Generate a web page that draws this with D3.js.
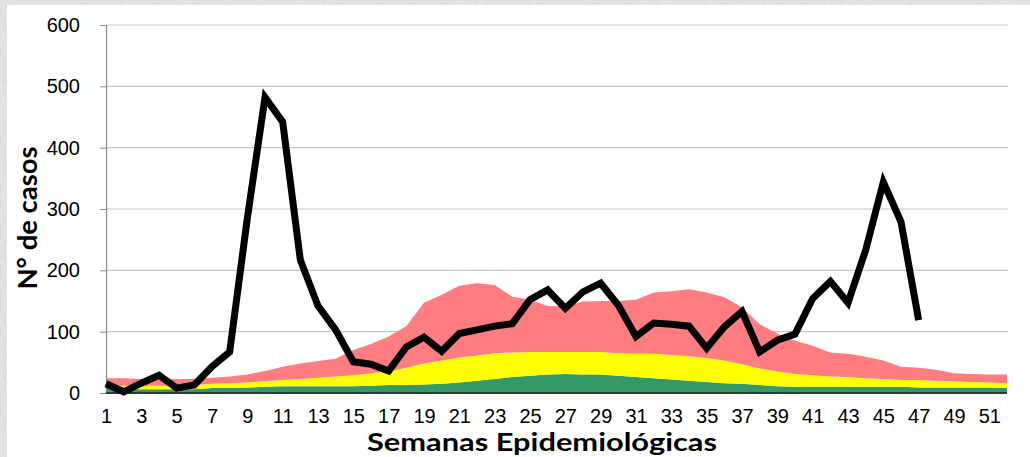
<!DOCTYPE html>
<html>
<head>
<meta charset="utf-8">
<script src="https://cdn.jsdelivr.net/npm/d3@7"></script>
<style>
  html, body { margin: 0; padding: 0; background: #fff; }
  svg { display: block; }
</style>
</head>
<body>
<div id="chart"></div>
<script>
const W = 1030, H = 457;
const margin = { left: 106, right: 18, top: 25, bottom: 64 };

// semanas 1..52
const semanas = d3.range(1, 53);
const etiquetasX = d3.range(1, 52, 2);
const ticksY = [0, 100, 200, 300, 400, 500, 600];

// limites acumulados del canal endemico (lectura del grafico)
const exito = [8, 6, 6, 6, 6, 6, 8, 8, 9, 10, 11, 11, 11, 11, 11, 12, 13, 13, 14, 15,
  17, 20, 23, 26, 28, 30, 31, 30, 30, 28, 26, 24, 22, 20, 18, 16, 15, 13, 11, 10,
  10, 10, 10, 10, 10, 10, 9, 9, 9, 9, 9, 8];
const seguridad = [11, 12, 12, 12, 12, 13, 15, 16, 17, 19, 21, 23, 25, 27, 29, 32, 35, 41, 48, 53,
  58, 61, 65, 66, 67, 67, 67, 67, 67, 65, 64, 64, 62, 60, 57, 53, 47, 40, 35, 31,
  29, 27, 26, 24, 23, 21, 21, 20, 19, 18, 17, 16];
const alarma = [24, 24, 23, 22, 23, 23, 25, 27, 30, 36, 43, 48, 52, 56, 70, 80, 92, 109, 147, 160,
  175, 179, 176, 157, 152, 142, 141, 149, 150, 150, 152, 164, 166, 169, 164, 156, 140, 112, 97, 85,
  77, 66, 64, 59, 53, 43, 41, 38, 32, 31, 30, 30];
// casos observados (semanas 1..47)
const casos = [15, 2, 16, 29, 8, 13, 43, 67, 285, 482, 442, 217, 142, 103, 51, 47, 36, 75, 91, 68,
  97, 103, 109, 113, 152, 168, 138, 165, 179, 143, 92, 114, 112, 109, 73, 108, 133, 67, 86, 96,
  154, 182, 147, 233, 344, 279, 119];

const svg = d3.select("#chart").append("svg")
  .attr("width", W).attr("height", H);

// fondo texturado
const defs = svg.append("defs");
const f = defs.append("filter").attr("id", "marmol")
  .attr("x", 0).attr("y", 0).attr("width", "100%").attr("height", "100%");
f.append("feTurbulence").attr("type", "fractalNoise")
  .attr("baseFrequency", "0.7 0.2").attr("numOctaves", 3).attr("seed", 4);
f.append("feColorMatrix").attr("type", "matrix")
  .attr("values", "0 0 0 0 0.72  0 0 0 0 0.72  0 0 0 0 0.72  0 0 0 -1.6 1.3");
svg.append("rect").attr("width", W).attr("height", H).attr("fill", "#e6e6e6");
svg.append("rect").attr("width", W).attr("height", H).attr("filter", "url(#marmol)");
svg.append("rect").attr("x", 7).attr("y", 5).attr("width", W - 7).attr("height", H - 5)
  .attr("fill", "#fff");

const x = d3.scaleLinear().domain([1, 52]).range([margin.left, W - margin.right - 5]);
const y = d3.scaleLinear().domain([0, 600]).range([H - margin.bottom, margin.top]);

// grid
svg.append("g").selectAll("line").data(ticksY.slice(1)).join("line")
  .attr("x1", margin.left).attr("x2", x(52) + 1)
  .attr("y1", d => y(d)).attr("y2", d => y(d))
  .attr("stroke", "#c6c6c6").attr("stroke-width", 1.2);

// bandas
const capas = [
  { abajo: null, arriba: exito, color: "#339966" },
  { abajo: exito, arriba: seguridad, color: "#ffff00" },
  { abajo: seguridad, arriba: alarma, color: "#ff7c80" }
];
capas.forEach(c => {
  const area = d3.area()
    .x((d, i) => x(semanas[i]))
    .y0((d, i) => y(c.abajo ? c.abajo[i] : 0))
    .y1(d => y(d));
  svg.append("path").datum(c.arriba)
    .attr("d", area).attr("fill", c.color);
});

// eje Y
const yAxis = d3.axisLeft(y).tickValues(ticksY).tickSize(6).tickPadding(20);
const gy = svg.append("g").attr("transform", `translate(${margin.left},0)`).call(yAxis);
gy.select(".domain").attr("stroke", "#888").attr("stroke-width", 1.2);
gy.selectAll(".tick line").attr("stroke", "#888");
gy.selectAll("text").attr("font-family", "Liberation Sans, Arial, sans-serif")
  .attr("font-size", 20).attr("fill", "#000");

// eje X
const xAxis = d3.axisBottom(x).tickValues(etiquetasX).tickSize(0).tickPadding(16);
const gx = svg.append("g").attr("transform", `translate(0,${y(0)})`).call(xAxis);
gx.select(".domain").attr("stroke", "#2a3d33").attr("stroke-width", 2)
  .attr("d", `M${margin.left},0H${x(52)}`);
gx.selectAll("text").attr("font-family", "Liberation Sans, Arial, sans-serif")
  .attr("font-size", 20).attr("fill", "#000").attr("dy", "0.71em");

// linea de casos
const linea = d3.line().x((d, i) => x(semanas[i])).y(d => y(d));
svg.append("path").datum(casos)
  .attr("d", linea).attr("fill", "none")
  .attr("stroke", "#000").attr("stroke-width", 7)
  .attr("stroke-linejoin", "miter").attr("stroke-miterlimit", 4);

// titulos
svg.append("text").text("Semanas Epidemiológicas")
  .attr("x", 542).attr("y", 451).attr("text-anchor", "middle")
  .attr("textLength", 350).attr("lengthAdjust", "spacingAndGlyphs")
  .attr("font-family", "Lato, 'Open Sans', sans-serif").attr("font-weight", "bold")
  .attr("font-size", 25).attr("fill", "#000");
svg.append("text").text("N° de casos")
  .attr("transform", "translate(37,218) rotate(-90)").attr("text-anchor", "middle")
  .attr("textLength", 143).attr("lengthAdjust", "spacingAndGlyphs")
  .attr("font-family", "Lato, 'Open Sans', sans-serif").attr("font-weight", "bold")
  .attr("font-size", 27).attr("fill", "#000");
</script>
</body>
</html>
